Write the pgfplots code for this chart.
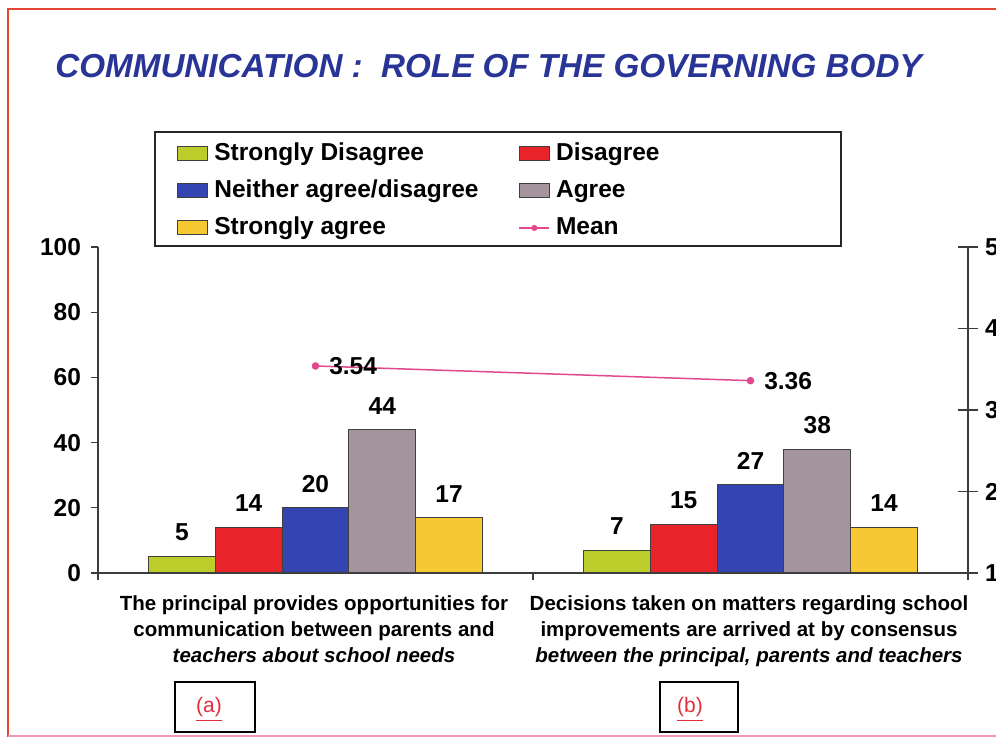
\documentclass[border=0pt]{standalone}
\usepackage{fontspec}
\setmainfont{Liberation Sans}
\usepackage{pgfplots}
\pgfplotsset{compat=1.18}
\definecolor{cSD}{RGB}{188,204,42}
\definecolor{cD}{RGB}{232,35,42}
\definecolor{cN}{RGB}{52,68,176}
\definecolor{cA}{RGB}{163,148,158}
\definecolor{cSA}{RGB}{246,200,50}
\definecolor{cMean}{RGB}{226,72,140}
\definecolor{cTitle}{RGB}{40,52,150}
\definecolor{cFrame}{RGB}{228,70,50}
\definecolor{cFrameB}{RGB}{240,150,185}
\definecolor{cAxis}{RGB}{60,60,60}
\definecolor{cLab}{RGB}{225,45,60}
\newcommand{\bigf}{\fontsize{12.25pt}{14pt}\selectfont\bfseries}
\newcommand{\catf}{\fontsize{10.25pt}{13pt}\selectfont\bfseries}
\begin{document}
\begin{tikzpicture}[x=0.5pt,y=0.5pt]
% frame
\draw[cFrame, line width=1pt] (8,0) -- (8,728) -- (1000,728);
\draw[cFrameB, line width=1pt] (8,1) -- (1000,1);
% title
\node[anchor=base west, inner sep=0pt, text=cTitle, font=\fontsize{16.6pt}{19pt}\selectfont\bfseries\itshape] at (55,659) {COMMUNICATION :\ \ ROLE OF THE GOVERNING BODY};
% legend frame
\draw[line width=0.6pt, black!85] (155,491) rectangle (841,605);

\begin{axis}[
  at={(49pt,82pt)}, anchor=south west,
  scale only axis, width=435pt, height=163pt,
  xmin=-0.5, xmax=1.5, ymin=0, ymax=100,
  axis x line*=bottom, axis y line*=left,
  axis line style={cAxis, line width=0.6pt},
  xtick={-0.5,0.5,1.5}, xticklabels={},
  ytick={0,20,...,100},
  tick align=outside, major tick length=3.5pt,
  tick style={cAxis, line width=0.6pt},
  ticklabel style={font=\bigf},
  yticklabel style={xshift=-1.5pt},
  /pgf/number format/assume math mode=true,
  ybar=0pt, bar width=33.4pt,
  nodes near coords,
  every node near coord/.append style={font=\bigf, anchor=south, inner sep=0pt, yshift=7.5pt, text=black},
  legend columns=2,
  legend cell align=left,
  legend style={at={(0.0908,1.3235)}, anchor=north west, draw=none, fill=none, inner sep=0pt,
    font=\bigf, row sep=6.5pt,
    nodes={inner xsep=3pt, inner ysep=0pt, text height=9.5pt, text depth=2.5pt},
    /tikz/every even column/.append style={column sep=17pt}},
  area legend,
  legend image code/.code={\draw[#1] (0pt,-3.5pt) rectangle (15pt,3.5pt);},
  clip=false,
]
\addplot[fill=cSD, draw=black!75, line width=0.5pt] coordinates {(0,5) (1,7)};
\addplot[fill=cD, draw=black!75, line width=0.5pt] coordinates {(0,14) (1,15)};
\addplot[fill=cN, draw=black!75, line width=0.5pt] coordinates {(0,20) (1,27)};
\addplot[fill=cA, draw=black!75, line width=0.5pt] coordinates {(0,44) (1,38)};
\addplot[fill=cSA, draw=black!75, line width=0.5pt] coordinates {(0,17) (1,14)};
\addlegendimage{legend image code/.code={\draw[cMean, line width=0.75pt] (0pt,0pt) -- (15pt,0pt); \fill[cMean] (7.5pt,0pt) circle (1.3pt);}}
\legend{Strongly Disagree, Disagree, Neither agree/disagree, Agree, Strongly agree, Mean}
\end{axis}

\begin{axis}[
  at={(49pt,82pt)}, anchor=south west,
  scale only axis, width=435pt, height=163pt,
  xmin=-0.5, xmax=1.5, ymin=1, ymax=5,
  axis x line=none, axis y line*=right,
  axis line style={cAxis, line width=0.6pt},
  ytick={1,2,3,4,5},
  tick align=center, major tick length=10pt,
  tick style={cAxis, line width=0.6pt},
  ticklabel style={font=\bigf},
  /pgf/number format/assume math mode=true,
  clip=false,
]
\addplot[cMean, line width=0.75pt, mark=*, mark size=1.5pt,
  nodes near coords,
  every node near coord/.append style={font=\bigf, anchor=west, inner sep=0pt, xshift=6.5pt, text=black}]
  coordinates {(0,3.54) (1,3.36)};
\end{axis}

% category labels
\node[anchor=base, inner sep=0pt, font=\catf] at (314,126) {The principal provides opportunities for};
\node[anchor=base, inner sep=0pt, font=\catf] at (314,100) {communication between parents and};
\node[anchor=base, inner sep=0pt, font=\catf\itshape] at (314,74) {teachers about school needs};
\node[anchor=base, inner sep=0pt, font=\catf] at (749,126) {Decisions taken on matters regarding school};
\node[anchor=base, inner sep=0pt, font=\catf] at (749,100) {improvements are arrived at by consensus};
\node[anchor=base, inner sep=0pt, font=\catf\itshape] at (749,74) {between the principal, parents and teachers};
% (a) (b) boxes
\draw[line width=1pt] (175,5) rectangle (255,55);
\draw[line width=1pt] (660,5) rectangle (738,55);
\node[anchor=base, inner sep=0pt, text=cLab, font=\fontsize{10.5pt}{12pt}\selectfont] at (209,24) {\underline{(a)}};
\node[anchor=base, inner sep=0pt, text=cLab, font=\fontsize{10.5pt}{12pt}\selectfont] at (690,24) {\underline{(b)}};
\pgfresetboundingbox
\path[use as bounding box] (0,0) rectangle (996,737);
\end{tikzpicture}
\end{document}
